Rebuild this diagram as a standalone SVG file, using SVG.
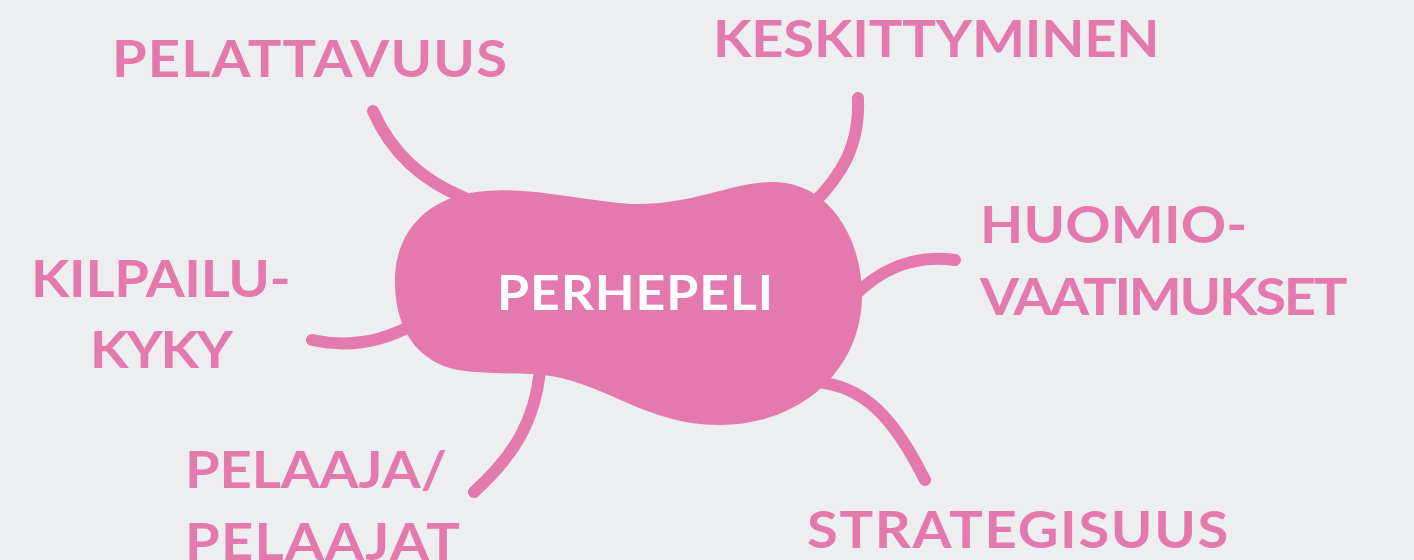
<svg xmlns="http://www.w3.org/2000/svg" width="1414" height="560" viewBox="0 0 1414 560">
<style>
.bg{fill:#EDEEF0}
.blob{fill:#E479AE}
.con{fill:none;stroke:#E479AE;stroke-width:12;stroke-linecap:round}
.lbl{fill:#E479AE;font-family:Lato,"Open Sans",sans-serif;font-weight:700;font-size:51px}
.ctr{fill:#FFFFFF;font-family:Lato,"Open Sans",sans-serif;font-weight:700;font-size:47px}
</style>
<rect class="bg" x="0" y="0" width="1414" height="560"/>
<g id="connectors">
<path class="con" d="M373,111 C390,150 420,180 465,198"/>
<path class="con" d="M858,98 C860,145 842,175 812,205"/>
<path class="con" d="M955,260 C920,255 885,265 855,295"/>
<path class="con" d="M312,340 C345,347 380,343 412,325"/>
<path class="con" d="M540,370 C535,420 515,455 474,492"/>
<path class="con" d="M815,382 C865,385 895,420 925,480"/>
</g>
<g id="center">
<path class="blob" d="M395,285 C393,230 430,200 470,193 C520,184 575,200 630,204 C690,206 730,183 770,182 C830,180 862,240 862,295 C862,370 800,425 720,425 C640,425 600,376 530,374 C500,373 475,373 458,370 C418,362 396,330 395,285 Z"/>
<text class="ctr" transform="translate(497,310) scale(1.1,1)" textLength="251" lengthAdjust="spacing">PERHEPELI</text>
</g>
<g id="pelattavuus"><text class="lbl" transform="translate(112,77) scale(1.1,1)" textLength="359" lengthAdjust="spacing">PELATTAVUUS</text></g>
<g id="keskittyminen"><text class="lbl" transform="translate(713,57) scale(1.1,1)" textLength="406" lengthAdjust="spacing">KESKITTYMINEN</text></g>
<g id="huomiovaatimukset">
<text class="lbl" transform="translate(980,243) scale(1.1,1)" textLength="243" lengthAdjust="spacing">HUOMIO-</text>
<text class="lbl" transform="translate(980,315) scale(1.1,1)" textLength="334" lengthAdjust="spacing">VAATIMUKSET</text>
</g>
<g id="kilpailukyky">
<text class="lbl" transform="translate(31,297) scale(1.1,1)" textLength="236" lengthAdjust="spacing">KILPAILU-</text>
<text class="lbl" transform="translate(90,368) scale(1.1,1)" textLength="130" lengthAdjust="spacing">KYKY</text>
</g>
<g id="pelaajat">
<text class="lbl" transform="translate(185,488) scale(1.1,1)" textLength="238" lengthAdjust="spacing">PELAAJA/</text>
<text class="lbl" transform="translate(185,560) scale(1.1,1)" textLength="250" lengthAdjust="spacing">PELAAJAT</text>
</g>
<g id="strategisuus"><text class="lbl" transform="translate(807,548) scale(1.1,1)" textLength="383" lengthAdjust="spacing">STRATEGISUUS</text></g>
</svg>
